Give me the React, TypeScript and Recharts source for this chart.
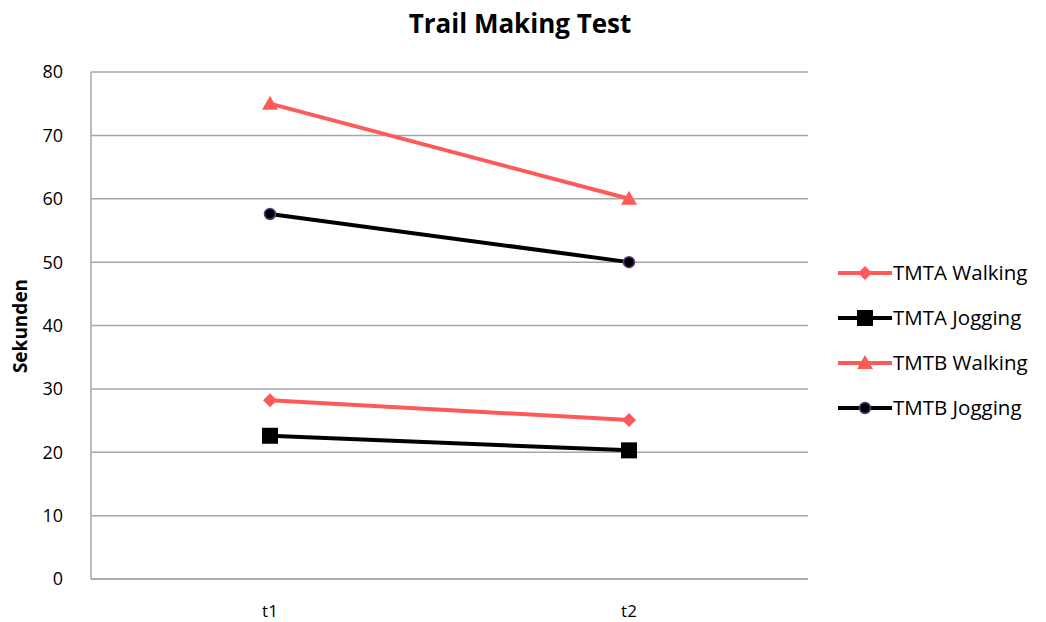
import React from 'react';
import { LineChart, Line, XAxis, YAxis, CartesianGrid } from 'recharts';

const categories = ['t1', 't2'];
const tmtaWalking = [28.2, 25.1];
const tmtaJogging = [22.6, 20.3];
const tmtbWalking = [75, 60];
const tmtbJogging = [57.6, 50];
const yTicks = [0, 10, 20, 30, 40, 50, 60, 70, 80];

const RED = '#FF5A5A';
const FONT = '"Open Sans", "Noto Sans", sans-serif';

const data = categories.map((c, i) => ({
  name: c,
  tmtaWalking: tmtaWalking[i],
  tmtaJogging: tmtaJogging[i],
  tmtbWalking: tmtbWalking[i],
  tmtbJogging: tmtbJogging[i],
}));

const Diamond = ({ cx, cy }: any) => (
  <path d={`M${cx},${cy - 7}L${cx + 7},${cy}L${cx},${cy + 7}L${cx - 7},${cy}Z`} fill={RED} />
);
const Square = ({ cx, cy }: any) => <rect x={cx - 8} y={cy - 8} width={16} height={16} fill="#000" />;
const Triangle = ({ cx, cy }: any) => (
  <path d={`M${cx},${cy - 8}L${cx + 8},${cy + 6}L${cx - 8},${cy + 6}Z`} fill={RED} />
);
const Circle = ({ cx, cy }: any) => <circle cx={cx} cy={cy} r={5.5} fill="#000" stroke="#5a3c8c" strokeWidth={1.5} />;

const series = [
  { key: 'tmtaWalking', label: 'TMTA Walking', color: RED, Dot: Diamond },
  { key: 'tmtaJogging', label: 'TMTA Jogging', color: '#000', Dot: Square },
  { key: 'tmtbWalking', label: 'TMTB Walking', color: RED, Dot: Triangle },
  { key: 'tmtbJogging', label: 'TMTB Jogging', color: '#000', Dot: Circle },
];

function LegendBox() {
  return (
    <svg width={212} height={180} style={{ position: 'absolute', left: 834, top: 252 }}>
      {series.map((s, i) => {
        const y = 21 + i * 45;
        const D = s.Dot;
        return (
          <g key={s.key}>
            <line x1={4} x2={58} y1={y} y2={y} stroke={s.color} strokeWidth={4} />
            <D cx={31} cy={y} />
            <text x={59} y={y + 7} fontSize={20.5} fontFamily={FONT} fill="#000">{s.label}</text>
          </g>
        );
      })}
    </svg>
  );
}

export default function App() {
  return (
    <div style={{ position: 'absolute', left: 0, top: 0, width: 1046, height: 622, background: '#fff' }}>
      <div style={{ position: 'absolute', left: 0, top: 5, width: 1040, textAlign: 'center', fontFamily: FONT, fontWeight: 700, fontSize: 26 }}>
        Trail Making Test
      </div>
      <div style={{ position: 'absolute', left: 20, top: 326, transform: 'translate(-50%, -50%) rotate(-90deg)', fontFamily: FONT, fontWeight: 700, fontSize: 19, whiteSpace: 'nowrap' }}>
        Sekunden
      </div>
      <LineChart width={1046} height={622} data={data} margin={{ top: 72, right: 238, bottom: 13, left: 30 }}>
        <CartesianGrid vertical={false} stroke="#a6a6a6" strokeWidth={1.5} />
        <XAxis
          dataKey="name"
          padding={{ left: 179, right: 179 }}
          axisLine={{ stroke: '#a6a6a6', strokeWidth: 1.5 }}
          tickLine={false}
          height={30}
          tick={{ fontSize: 17, fontFamily: FONT, fill: '#000', dy: 18 }}
        />
        <YAxis
          domain={[0, 80]}
          ticks={yTicks}
          width={61}
          axisLine={{ stroke: '#a6a6a6', strokeWidth: 1.5 }}
          tickLine={false}
          tick={{ fontSize: 18, fontFamily: FONT, fill: '#000', dx: -20 }}
        />
        {series.map((s) => (
          <Line
            key={s.key}
            dataKey={s.key}
            stroke={s.color}
            strokeWidth={4}
            dot={(p: any) => <s.Dot key={`${s.key}-${p.index}`} cx={p.cx} cy={p.cy} />}
            activeDot={false}
            isAnimationActive={false}
          />
        ))}
      </LineChart>
      <LegendBox />
    </div>
  );
}
